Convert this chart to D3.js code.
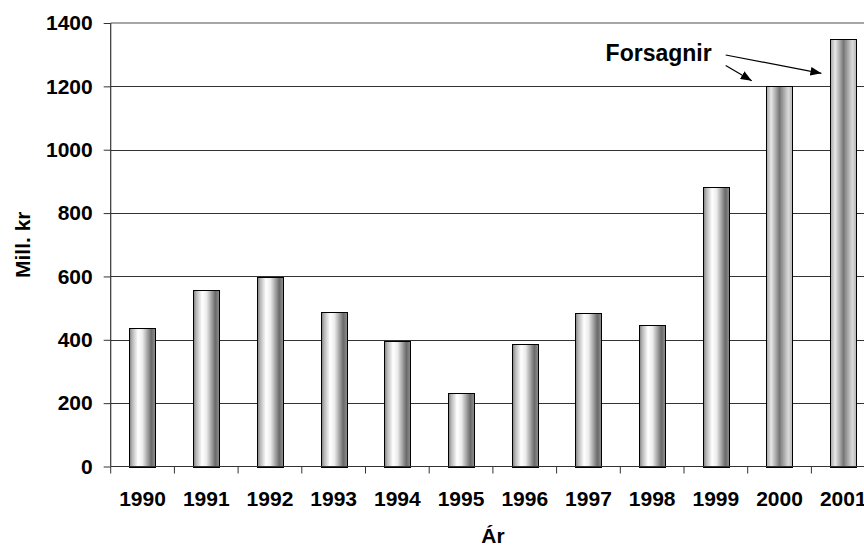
<!DOCTYPE html>
<meta charset='utf-8'>

<style>
    body { margin: 0; background: #fff; }
    svg { display: block; }
    text {
      font-family: "Liberation Sans", Arial, Helvetica, sans-serif;
      font-weight: bold;
      fill: #000;
    }
    .grid line { stroke: #333; stroke-width: 1; }
    .bar { stroke: #000; stroke-width: 1; }
</style>

<svg width="864" height="545"></svg>

<script src="https://d3js.org/d3.v7.min.js"></script>

<script>

// data
var years = ["1990", "1991", "1992", "1993", "1994", "1995", "1996", "1997", "1998", "1999", "2000", "2001"];
var values = [437, 558, 598, 488, 395, 233, 386, 485, 448, 882, 1200, 1350];
var forecastYears = ["2000", "2001"];
var yTicks = [0, 200, 400, 600, 800, 1000, 1200, 1400];

var svg = d3.select("svg");

// plot area (right side runs past the window edge, as in the original)
var plotLeft = 110.7, plotTop = 23, plotBottom = 466.5, step = 63.7;
var plotRight = plotLeft + step * years.length;

var x = d3.scaleBand()
  .domain(years)
  .range([plotLeft, plotRight])
  .paddingInner(0.59)
  .paddingOuter(0.295);

var y = d3.scaleLinear()
  .domain([0, 1400])
  .range([plotBottom, plotTop]);

// gradients
var defs = svg.append("defs");

var g1 = defs.append("linearGradient").attr("id", "cyl");
[[0, "#7c7c7c"], [0.1, "#b4b4b4"], [0.33, "#ffffff"], [0.5, "#ececec"], [0.84, "#6a6a6a"], [1, "#909090"]]
  .forEach(function(s) { g1.append("stop").attr("offset", s[0]).attr("stop-color", s[1]); });

var g2 = defs.append("linearGradient").attr("id", "cylf");
[[0, "#a4a4a4"], [0.18, "#e8e8e8"], [0.5, "#777777"], [0.84, "#dadada"], [1, "#b4b4b4"]]
  .forEach(function(s) { g2.append("stop").attr("offset", s[0]).attr("stop-color", s[1]); });

defs.append("marker")
  .attr("id", "arrow")
  .attr("markerUnits", "userSpaceOnUse")
  .attr("viewBox", "0 0 10 8")
  .attr("refX", 10).attr("refY", 4)
  .attr("markerWidth", 11).attr("markerHeight", 9)
  .attr("orient", "auto")
  .append("path")
  .attr("d", "M0,0L10,4L0,8Z")
  .attr("fill", "#000");

// gridlines
svg.append("g")
  .attr("class", "grid")
  .selectAll("line")
  .data(yTicks.filter(function(d) { return d > 0 && d < 1400; }))
  .enter()
  .append("line")
  .attr("x1", plotLeft).attr("x2", plotRight)
  .attr("y1", function(d) { return Math.round(y(d)) + 0.5; })
  .attr("y2", function(d) { return Math.round(y(d)) + 0.5; });

// top border of plot area
svg.append("line")
  .attr("x1", plotLeft).attr("x2", plotRight)
  .attr("y1", plotTop).attr("y2", plotTop)
  .attr("stroke", "#888")
  .attr("stroke-width", 1.5);

// bars
svg.append("g")
  .selectAll("rect")
  .data(years)
  .enter()
  .append("rect")
  .attr("class", "bar")
  .attr("x", function(d) { return Math.round(x(d)) + 0.5; })
  .attr("width", Math.round(x.bandwidth()))
  .attr("y", function(d, i) { return Math.round(y(values[i])) + 0.5; })
  .attr("height", function(d, i) { return Math.round(plotBottom) - Math.round(y(values[i])); })
  .attr("fill", function(d) { return forecastYears.indexOf(d) >= 0 ? "url(#cylf)" : "url(#cyl)"; });

// y axis
var yAxis = svg.append("g")
  .attr("transform", "translate(" + plotLeft + ",0)")
  .call(d3.axisLeft(y).tickValues(yTicks).tickSize(7).tickPadding(11).tickFormat(d3.format("d")));

// x axis, ticks on band boundaries
var xAxis = svg.append("g")
  .attr("transform", "translate(0," + plotBottom + ")")
  .call(d3.axisBottom(x).tickSize(0).tickPadding(25));

xAxis.selectAll(".sep")
  .data(years)
  .enter()
  .append("line")
  .attr("class", "sep")
  .attr("x1", function(d) { return x(d) - x.step() * x.paddingOuter(); })
  .attr("x2", function(d) { return x(d) - x.step() * x.paddingOuter(); })
  .attr("y1", 0).attr("y2", 7)
  .attr("stroke", "#333");

[yAxis, xAxis].forEach(function(a) {
  a.select(".domain").attr("stroke", "#333").attr("stroke-width", 1.2);
  a.selectAll(".tick line").attr("stroke", "#333");
  a.selectAll("text").attr("font-size", 21).attr("font-family", null);
});
yAxis.select(".domain").attr("d", "M0," + plotBottom + "V" + plotTop);
xAxis.select(".domain").attr("d", "M" + plotLeft + ",0H" + plotRight);

// axis titles
svg.append("text")
  .attr("transform", "translate(23," + ((plotTop + plotBottom) / 2) + ") rotate(-90)")
  .attr("text-anchor", "middle")
  .attr("dy", "0.35em")
  .attr("font-size", 21)
  .text("Mill. kr");

svg.append("text")
  .attr("x", (plotLeft + plotRight) / 2)
  .attr("y", 543)
  .attr("text-anchor", "middle")
  .attr("font-size", 21)
  .text("Ár");

// forecast annotation
var ax = x("2000") - x.step() * x.paddingOuter();
svg.append("text")
  .attr("x", ax - 36)
  .attr("y", 61)
  .attr("text-anchor", "end")
  .attr("font-size", 23)
  .text("Forsagnir");

svg.append("line")
  .attr("x1", ax - 22).attr("y1", 65.5)
  .attr("x2", ax + 4).attr("y2", y(1218))
  .attr("stroke", "#000").attr("stroke-width", 1.2)
  .attr("marker-end", "url(#arrow)");

svg.append("line")
  .attr("x1", ax - 22).attr("y1", 55)
  .attr("x2", ax + step + 10).attr("y2", y(1241))
  .attr("stroke", "#000").attr("stroke-width", 1.2)
  .attr("marker-end", "url(#arrow)");

</script>
